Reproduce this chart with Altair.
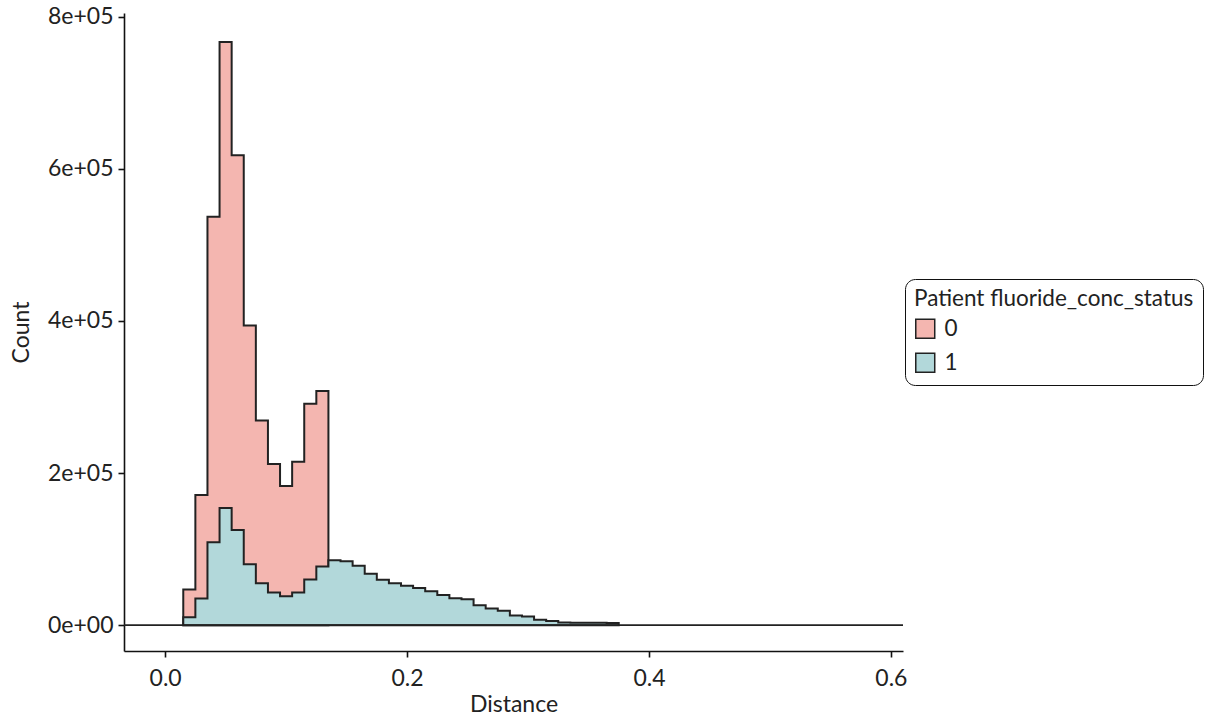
import altair as alt
import pandas as pd

# Bin edges (left edges), width 0.01
bin_edges = [0.015, 0.025, 0.035, 0.045, 0.055, 0.065, 0.075, 0.085, 0.095, 0.105,
             0.115, 0.125, 0.135, 0.145, 0.155, 0.165, 0.175, 0.185, 0.195, 0.205,
             0.215, 0.225, 0.235, 0.245, 0.255, 0.265, 0.275, 0.285, 0.295, 0.305,
             0.315, 0.325, 0.335, 0.345, 0.355, 0.365, 0.375]

counts_0 = [47000, 171000, 537000, 767000, 618000, 394000, 269000, 212000,
            183000, 215000, 291000, 308000]

counts_1 = [10500, 35000, 109000, 154000, 125000, 80000, 55000, 43000, 38000,
            43000, 60000, 77000, 85500, 84000, 78000, 67500, 59600, 55000, 51800,
            49000, 44700, 39500, 35500, 34000, 26000, 22000, 19000, 12700, 11400,
            7000, 5300, 3500, 3300, 3200, 3000, 2900]

groups = ["0", "1"]
fill_colors = ["#F4B6B0", "#B2D8DA"]
x_ticks = [0.0, 0.2, 0.4, 0.6]
y_ticks = [0, 200000, 400000, 600000, 800000]

rows = []
for g, counts in zip(groups, [counts_0, counts_1]):
    for i, c in enumerate(counts):
        rows.append({"group": g, "x": bin_edges[i], "count": c})
    rows.append({"group": g, "x": bin_edges[len(counts)], "count": 0})
df = pd.DataFrame(rows)

FONT = "Lato"
TXT = "#222222"
FS = 23
LFS = 22.5

x_enc = alt.X("x:Q", title="Distance",
              scale=alt.Scale(domain=[-0.034, 0.61], nice=False, zero=False),
              axis=alt.Axis(values=x_ticks, format=".1f", grid=False))
y_enc = alt.Y("count:Q", title="Count", stack=None,
              scale=alt.Scale(domain=[-34000, 805000], nice=False, zero=False),
              axis=alt.Axis(values=y_ticks, grid=False,
                            labelExpr="replace(format(datum.value, '.0e'), 'e+', 'e+0')"))

areas = alt.Chart(df).mark_area(
    interpolate="step-after", stroke="#222222", strokeWidth=2, opacity=1,
    strokeJoin="miter"
).encode(
    x=x_enc,
    y=y_enc,
    color=alt.Color("group:N", title="Patient fluoride_conc_status",
                    scale=alt.Scale(domain=groups, range=fill_colors),
                    legend=alt.Legend(orient="none", legendX=781, legendY=266,
                                      symbolType="square", symbolSize=360,
                                      symbolStrokeColor="#222222",
                                      symbolStrokeWidth=1.5,
                                      symbolOpacity=1,
                                      strokeColor="#111111", cornerRadius=10,
                                      padding=9, fillColor="white",
                                      titleFontSize=LFS, labelFontSize=LFS,
                                      titleFontWeight="normal", titleFont=FONT,
                                      labelFont=FONT, titleColor=TXT,
                                      labelColor=TXT, rowPadding=8,
                                      titlePadding=7, labelOffset=8,
                                      titleLimit=400, labelLimit=200)),
    detail="group:N",
)

zero = alt.Chart(pd.DataFrame({"y": [0]})).mark_rule(
    color="#222222", strokeWidth=1.6
).encode(y="y:Q")

chart = alt.layer(areas, zero).properties(
    width=779, height=638,
    autosize=alt.AutoSizeParams(type="none"),
    padding={"left": 124, "top": 13, "right": 302, "bottom": 67},
).configure_view(stroke=None).configure_axis(
    labelFont=FONT, titleFont=FONT, labelFontSize=FS, titleFontSize=FS,
    titleFontWeight="normal", labelColor=TXT, titleColor=TXT,
    domainColor="#111111", domainWidth=1.6, tickColor="#111111",
    tickWidth=1.6, tickSize=6
).configure_axisY(
    labelPadding=5, titlePadding=14
).configure_axisX(
    labelPadding=10, titlePadding=3
)

chart.save("out.html", embed_options={"renderer": "svg", "actions": False})
